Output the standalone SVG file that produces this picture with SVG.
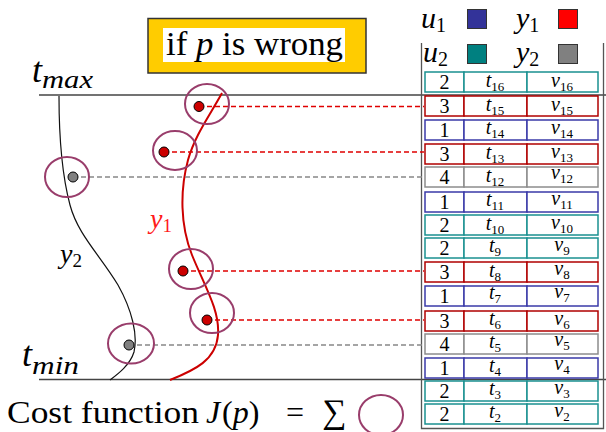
<svg xmlns="http://www.w3.org/2000/svg" width="606" height="432" viewBox="0 0 606 432" font-family="Liberation Serif, Times New Roman, serif">
<rect width="606" height="432" fill="#fff"/>
<g id="axes" fill="none">
<line x1="39" y1="95" x2="606" y2="95" stroke="#444" stroke-width="1.3"/>
<line x1="39" y1="379.5" x2="606" y2="379.5" stroke="#444" stroke-width="1.3"/>
<path d="M421.5,43 V428.5 H603.5 V43" stroke="#555" stroke-width="1.3"/>
</g>
<g id="title">
<rect x="148" y="18.5" width="218" height="54.5" fill="#ffcc00" stroke="#333" stroke-width="1.5"/>
<rect x="163" y="28" width="182" height="34" fill="#fff"/>
<text font-family="Times New Roman" x="166" y="55" font-size="33" textLength="177" lengthAdjust="spacingAndGlyphs">if <tspan font-style="italic">p</tspan> is wrong</text>
</g>
<g id="labels">
<text font-family="Times New Roman" x="32" y="82" font-style="italic" font-size="36">t<tspan dy="6" font-size="26" textLength="51" lengthAdjust="spacingAndGlyphs">max</tspan></text>
<text font-family="Times New Roman" x="22" y="366" font-style="italic" font-size="36">t<tspan dy="8" font-size="26" textLength="47" lengthAdjust="spacingAndGlyphs">min</tspan></text>
<text font-family="Times New Roman" x="150" y="228" font-style="italic" font-size="28" fill="#ff1a1a">y<tspan dy="4" font-size="19" font-style="normal">1</tspan></text>
<text font-family="Times New Roman" x="60" y="263" font-style="italic" font-size="28">y<tspan dy="4" font-size="19" font-style="normal">2</tspan></text>
<text font-family="Times New Roman" x="7" y="423" font-size="32"><tspan textLength="192" lengthAdjust="spacingAndGlyphs">Cost function</tspan><tspan x="206" font-style="italic">J</tspan><tspan x="222">(</tspan><tspan font-style="italic">p</tspan><tspan>)</tspan><tspan x="286">=</tspan><tspan x="322" font-size="34">&#x2211;</tspan></text>
<ellipse cx="381" cy="415" rx="22" ry="20" fill="none" stroke="#993d6b" stroke-width="2"/>
</g>
<g id="curves" fill="none">
<path d="M59,96 C59,140 62,175 70,205 C78,235 100,255 118,285 C132,310 138,335 134,352 C130,365 118,374 110,380" stroke="#111" stroke-width="1.2"/>
<path d="M222,93 C210,115 195,135 188,160 C180,190 180,225 192,255 C204,285 220,310 218,335 C216,360 195,370 170,380" stroke="#cc0000" stroke-width="2"/>
</g>
<g id="connectors" fill="none" stroke-width="1.3" stroke-dasharray="5,3">
<line stroke="#e00000" x1="199" y1="106.5" x2="424" y2="106.5"/>
<line stroke="#e00000" x1="164" y1="152" x2="424" y2="152"/>
<line stroke="#888" x1="73" y1="177" x2="424" y2="177"/>
<line stroke="#e00000" x1="183" y1="271" x2="424" y2="271"/>
<line stroke="#e00000" x1="207" y1="320" x2="424" y2="320"/>
<line stroke="#888" x1="129" y1="345" x2="424" y2="345"/>
</g>
<g id="points">
<g id="p1"><ellipse cx="207" cy="104" rx="22" ry="20" fill="none" stroke="#993d6b" stroke-width="2"/><circle cx="199" cy="106.5" r="5" fill="#cc0000" stroke="#000"/></g>
<g id="p2"><ellipse cx="175" cy="150.5" rx="22" ry="19.5" fill="none" stroke="#993d6b" stroke-width="2"/><circle cx="164" cy="152" r="5" fill="#cc0000" stroke="#000"/></g>
<g id="p3"><ellipse cx="67" cy="177" rx="22" ry="20" fill="none" stroke="#993d6b" stroke-width="2"/><circle cx="73" cy="177" r="5" fill="#808080" stroke="#000"/></g>
<g id="p4"><ellipse cx="191" cy="269" rx="22" ry="20" fill="none" stroke="#993d6b" stroke-width="2"/><circle cx="183" cy="271" r="5" fill="#cc0000" stroke="#000"/></g>
<g id="p5"><ellipse cx="212" cy="313" rx="22" ry="20" fill="none" stroke="#993d6b" stroke-width="2"/><circle cx="207" cy="320" r="5" fill="#cc0000" stroke="#000"/></g>
<g id="p6"><ellipse cx="131" cy="343.5" rx="23" ry="20" fill="none" stroke="#993d6b" stroke-width="2"/><circle cx="129" cy="345" r="5" fill="#808080" stroke="#000"/></g>
</g>
<g id="legend">
<g stroke="#333" stroke-width="1">
<rect x="467.5" y="9.5" width="19" height="19" fill="#333399"/>
<rect x="558.5" y="9.5" width="19" height="19" fill="#ff0000"/>
<rect x="467.5" y="44.5" width="19" height="19" fill="#008080"/>
<rect x="558.5" y="44.5" width="19" height="19" fill="#808080"/>
</g>
<text font-family="Times New Roman" x="421" y="28" font-style="italic" font-size="30">u<tspan dy="4" font-size="20" font-style="normal">1</tspan></text>
<text font-family="Times New Roman" x="516" y="28" font-style="italic" font-size="30">y<tspan dy="4" font-size="20" font-style="normal">1</tspan></text>
<text font-family="Times New Roman" x="423" y="62" font-style="italic" font-size="30">u<tspan dy="4" font-size="20" font-style="normal">2</tspan></text>
<text font-family="Times New Roman" x="516" y="62" font-style="italic" font-size="30">y<tspan dy="4" font-size="20" font-style="normal">2</tspan></text>
</g>
<g id="table" fill="#fff" stroke-width="1.5">
<g id="row16" stroke="#1a9090"><rect x="425" y="72" width="39" height="20"/><rect x="464" y="72" width="63" height="20"/><rect x="527" y="72" width="71" height="20"/></g>
<g id="row15" stroke="#b00000"><rect x="425" y="96" width="39" height="20"/><rect x="464" y="96" width="63" height="20"/><rect x="527" y="96" width="71" height="20"/></g>
<g id="row14" stroke="#3a3aa8"><rect x="425" y="120" width="39" height="20"/><rect x="464" y="120" width="63" height="20"/><rect x="527" y="120" width="71" height="20"/></g>
<g id="row13" stroke="#b00000"><rect x="425" y="144" width="39" height="20"/><rect x="464" y="144" width="63" height="20"/><rect x="527" y="144" width="71" height="20"/></g>
<g id="row12" stroke="#8c8c8c"><rect x="425" y="167" width="39" height="20"/><rect x="464" y="167" width="63" height="20"/><rect x="527" y="167" width="71" height="20"/></g>
<g id="row11" stroke="#3a3aa8"><rect x="425" y="192" width="39" height="20"/><rect x="464" y="192" width="63" height="20"/><rect x="527" y="192" width="71" height="20"/></g>
<g id="row10" stroke="#1a9090"><rect x="425" y="215" width="39" height="20"/><rect x="464" y="215" width="63" height="20"/><rect x="527" y="215" width="71" height="20"/></g>
<g id="row9" stroke="#1a9090"><rect x="425" y="238" width="39" height="20"/><rect x="464" y="238" width="63" height="20"/><rect x="527" y="238" width="71" height="20"/></g>
<g id="row8" stroke="#b00000"><rect x="425" y="262" width="39" height="20"/><rect x="464" y="262" width="63" height="20"/><rect x="527" y="262" width="71" height="20"/></g>
<g id="row7" stroke="#3a3aa8"><rect x="425" y="286" width="39" height="20"/><rect x="464" y="286" width="63" height="20"/><rect x="527" y="286" width="71" height="20"/></g>
<g id="row6" stroke="#b00000"><rect x="425" y="311" width="39" height="20"/><rect x="464" y="311" width="63" height="20"/><rect x="527" y="311" width="71" height="20"/></g>
<g id="row5" stroke="#8c8c8c"><rect x="425" y="334" width="39" height="20"/><rect x="464" y="334" width="63" height="20"/><rect x="527" y="334" width="71" height="20"/></g>
<g id="row4" stroke="#3a3aa8"><rect x="425" y="358" width="39" height="20"/><rect x="464" y="358" width="63" height="20"/><rect x="527" y="358" width="71" height="20"/></g>
<g id="row3" stroke="#1a9090"><rect x="425" y="381" width="39" height="20"/><rect x="464" y="381" width="63" height="20"/><rect x="527" y="381" width="71" height="20"/></g>
<g id="row2" stroke="#1a9090"><rect x="425" y="404" width="39" height="20"/><rect x="464" y="404" width="63" height="20"/><rect x="527" y="404" width="71" height="20"/></g>
</g>
<g id="table-text" font-size="20" text-anchor="middle" fill="#000">
<text font-family="Times New Roman" x="444.5" y="89">2</text><text font-family="Times New Roman" font-style="italic" x="495" y="87">t<tspan font-size="13" font-style="normal" dy="4">16</tspan></text><text font-family="Times New Roman" font-style="italic" x="562" y="87">v<tspan font-size="13" font-style="normal" dy="4">16</tspan></text>
<text font-family="Times New Roman" x="444.5" y="113">3</text><text font-family="Times New Roman" font-style="italic" x="495" y="111">t<tspan font-size="13" font-style="normal" dy="4">15</tspan></text><text font-family="Times New Roman" font-style="italic" x="562" y="111">v<tspan font-size="13" font-style="normal" dy="4">15</tspan></text>
<text font-family="Times New Roman" x="444.5" y="137">1</text><text font-family="Times New Roman" font-style="italic" x="495" y="134">t<tspan font-size="13" font-style="normal" dy="4">14</tspan></text><text font-family="Times New Roman" font-style="italic" x="562" y="134">v<tspan font-size="13" font-style="normal" dy="4">14</tspan></text>
<text font-family="Times New Roman" x="444.5" y="161">3</text><text font-family="Times New Roman" font-style="italic" x="495" y="159">t<tspan font-size="13" font-style="normal" dy="4">13</tspan></text><text font-family="Times New Roman" font-style="italic" x="562" y="158">v<tspan font-size="13" font-style="normal" dy="4">13</tspan></text>
<text font-family="Times New Roman" x="444.5" y="184">4</text><text font-family="Times New Roman" font-style="italic" x="495" y="182">t<tspan font-size="13" font-style="normal" dy="4">12</tspan></text><text font-family="Times New Roman" font-style="italic" x="562" y="179">v<tspan font-size="13" font-style="normal" dy="4">12</tspan></text>
<text font-family="Times New Roman" x="444.5" y="209">1</text><text font-family="Times New Roman" font-style="italic" x="495" y="206">t<tspan font-size="13" font-style="normal" dy="4">11</tspan></text><text font-family="Times New Roman" font-style="italic" x="562" y="205">v<tspan font-size="13" font-style="normal" dy="4">11</tspan></text>
<text font-family="Times New Roman" x="444.5" y="232">2</text><text font-family="Times New Roman" font-style="italic" x="495" y="230">t<tspan font-size="13" font-style="normal" dy="4">10</tspan></text><text font-family="Times New Roman" font-style="italic" x="562" y="229">v<tspan font-size="13" font-style="normal" dy="4">10</tspan></text>
<text font-family="Times New Roman" x="444.5" y="255">2</text><text font-family="Times New Roman" font-style="italic" x="495" y="252">t<tspan font-size="13" font-style="normal" dy="4">9</tspan></text><text font-family="Times New Roman" font-style="italic" x="562" y="251">v<tspan font-size="13" font-style="normal" dy="4">9</tspan></text>
<text font-family="Times New Roman" x="444.5" y="279">3</text><text font-family="Times New Roman" font-style="italic" x="495" y="277">t<tspan font-size="13" font-style="normal" dy="4">8</tspan></text><text font-family="Times New Roman" font-style="italic" x="562" y="275">v<tspan font-size="13" font-style="normal" dy="4">8</tspan></text>
<text font-family="Times New Roman" x="444.5" y="303">1</text><text font-family="Times New Roman" font-style="italic" x="495" y="299">t<tspan font-size="13" font-style="normal" dy="4">7</tspan></text><text font-family="Times New Roman" font-style="italic" x="562" y="298">v<tspan font-size="13" font-style="normal" dy="4">7</tspan></text>
<text font-family="Times New Roman" x="444.5" y="328">3</text><text font-family="Times New Roman" font-style="italic" x="495" y="325">t<tspan font-size="13" font-style="normal" dy="4">6</tspan></text><text font-family="Times New Roman" font-style="italic" x="562" y="325">v<tspan font-size="13" font-style="normal" dy="4">6</tspan></text>
<text font-family="Times New Roman" x="444.5" y="351">4</text><text font-family="Times New Roman" font-style="italic" x="495" y="348">t<tspan font-size="13" font-style="normal" dy="4">5</tspan></text><text font-family="Times New Roman" font-style="italic" x="562" y="346">v<tspan font-size="13" font-style="normal" dy="4">5</tspan></text>
<text font-family="Times New Roman" x="444.5" y="375">1</text><text font-family="Times New Roman" font-style="italic" x="495" y="372">t<tspan font-size="13" font-style="normal" dy="4">4</tspan></text><text font-family="Times New Roman" font-style="italic" x="562" y="370">v<tspan font-size="13" font-style="normal" dy="4">4</tspan></text>
<text font-family="Times New Roman" x="444.5" y="398">2</text><text font-family="Times New Roman" font-style="italic" x="495" y="395">t<tspan font-size="13" font-style="normal" dy="4">3</tspan></text><text font-family="Times New Roman" font-style="italic" x="562" y="394">v<tspan font-size="13" font-style="normal" dy="4">3</tspan></text>
<text font-family="Times New Roman" x="444.5" y="421">2</text><text font-family="Times New Roman" font-style="italic" x="495" y="418">t<tspan font-size="13" font-style="normal" dy="4">2</tspan></text><text font-family="Times New Roman" font-style="italic" x="562" y="417">v<tspan font-size="13" font-style="normal" dy="4">2</tspan></text>
</g>
</svg>
